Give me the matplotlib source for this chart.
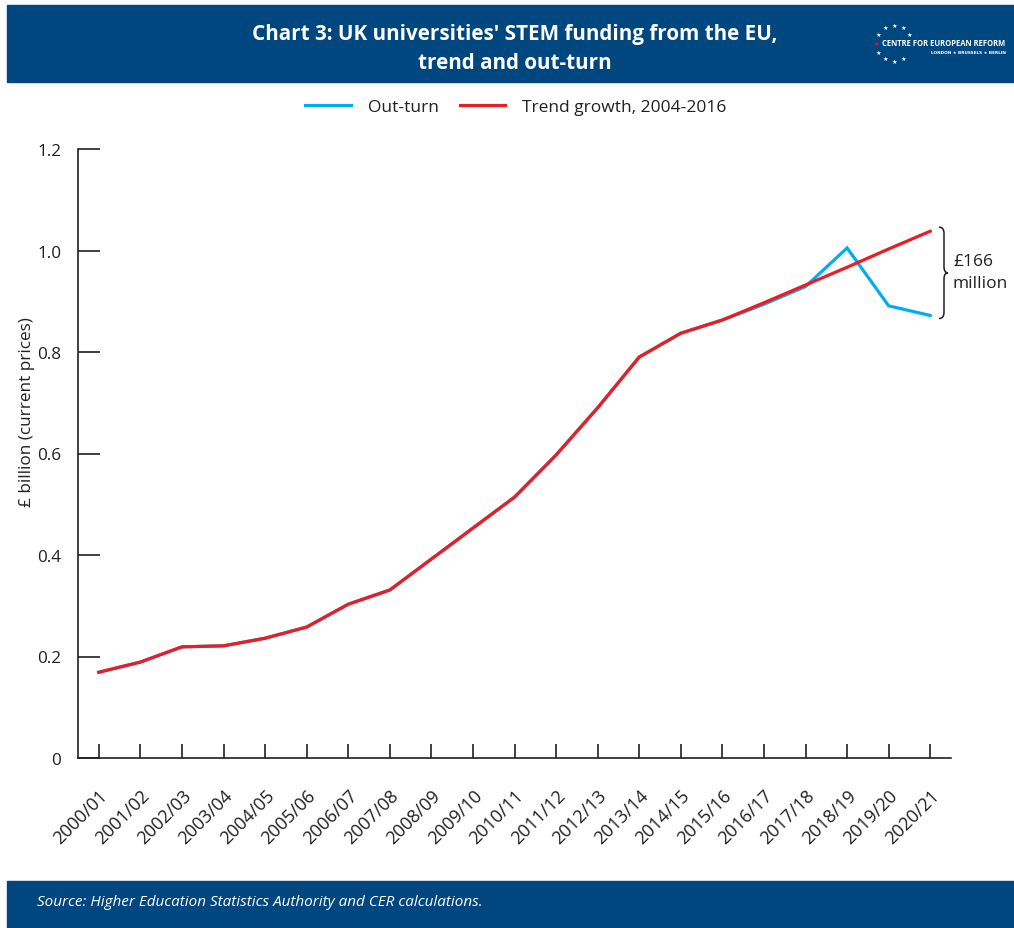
import matplotlib
matplotlib.use("Agg")
import matplotlib.pyplot as plt
import numpy as np
from matplotlib.path import Path
from matplotlib.patches import PathPatch, Rectangle
import matplotlib.transforms as mtransforms

plt.rcParams['font.family'] = ['Open Sans', 'DejaVu Sans']

years = ['2000/01', '2001/02', '2002/03', '2003/04', '2004/05', '2005/06',
         '2006/07', '2007/08', '2008/09', '2009/10', '2010/11', '2011/12',
         '2012/13', '2013/14', '2014/15', '2015/16', '2016/17', '2017/18',
         '2018/19', '2019/20', '2020/21']
outturn = [0.169, 0.189, 0.219, 0.221, 0.236, 0.258, 0.303, 0.331, 0.392,
           0.453, 0.514, 0.597, 0.690, 0.790, 0.837, 0.863, 0.894, 0.929,
           1.005, 0.891, 0.872]
trend = [0.169, 0.189, 0.219, 0.221, 0.236, 0.258, 0.303, 0.331, 0.392,
         0.453, 0.514, 0.597, 0.690, 0.790, 0.837, 0.863, 0.897, 0.932,
         0.967, 1.003, 1.038]
yticks = [0, 0.2, 0.4, 0.6, 0.8, 1.0, 1.2]
ytick_labels = ['0', '0.2', '0.4', '0.6', '0.8', '1.0', '1.2']

NAVY = '#00467F'
BLUE = '#00AEEF'
RED = '#ED1C24'
INK = '#231F20'

W, H = 1014, 929
fig = plt.figure(figsize=(W / 100, H / 100), dpi=100)

# header and footer bands
fig.add_artist(Rectangle((7 / W, 1 - 83 / H), 1 - 7 / W, 77 / H,
                         transform=fig.transFigure, color=NAVY, zorder=0))
fig.add_artist(Rectangle((7 / W, 0), 1 - 7 / W, (929 - 882) / H,
                         transform=fig.transFigure, color=NAVY, zorder=0))

fig.text(515 / W, 1 - 49 / H,
         "Chart 3: UK universities' STEM funding from the EU,\ntrend and out-turn",
         ha='center', va='center', color='white', fontsize=14.9,
         fontweight='bold', linespacing=1.45)
fig.text(37 / W, 1 - 903 / H,
         'Source: Higher Education Statistics Authority and CER calculations.',
         ha='left', va='center', color='white', fontsize=11, style='italic')

# logo: ring of stars with name
cx, cy, r = 894, 44, 18
for k in range(12):
    a = np.pi / 2 - k * 2 * np.pi / 12
    sx, sy = cx + r * np.cos(a), cy - r * np.sin(a)
    if k in (3, 4):
        continue
    col = RED if k == 9 else 'white'
    fig.text(sx / W, 1 - sy / H, '\u2605', ha='center', va='center',
             color=col, fontsize=4.5, family=['DejaVu Sans'])
fig.text(882 / W, 1 - 44 / H, 'CENTRE FOR EUROPEAN REFORM', ha='left',
         va='center', color='white', fontsize=5.5, fontweight='bold')
fig.text(1006 / W, 1 - 53 / H, 'LONDON \u2605 BRUSSELS \u2605 BERLIN',
         ha='right', va='center', color='white', fontsize=3.1,
         fontweight='bold', family=['DejaVu Sans'])

ax = fig.add_axes([78 / W, (H - 759) / H, (951 - 78) / W, (759 - 150) / H])
x = np.arange(len(years))
ax.plot(x, outturn, color=BLUE, lw=2.3, label='Out-turn', solid_joinstyle='miter')
ax.plot(x, trend, color=RED, lw=2.3, label='Trend growth, 2004-2016',
        solid_joinstyle='miter')

ax.set_xlim(-0.5, len(years) - 0.5)
ax.set_ylim(0, 1.2)
ax.set_yticks(yticks)
ax.set_yticklabels(ytick_labels)
ax.set_xticks(x)
ax.set_xticklabels(years, rotation=45, ha='right', va='top',
                   rotation_mode='anchor')
shift = mtransforms.ScaledTranslation(6 / 100, -6 / 100, fig.dpi_scale_trans)
for lab in ax.get_xticklabels():
    lab.set_transform(lab.get_transform() + shift)
for s in ('top', 'right'):
    ax.spines[s].set_visible(False)
for s in ('left', 'bottom'):
    ax.spines[s].set_color(INK)
    ax.spines[s].set_linewidth(1.2)
ax.tick_params(axis='y', direction='in', length=16, width=1.2, color=INK,
               labelsize=12.3, labelcolor=INK, pad=12)
ax.tick_params(axis='x', direction='in', length=10, width=1.2, color=INK,
               labelsize=13, labelcolor=INK, pad=20)
ax.set_ylabel('£ billion (current prices)', fontsize=12.3, color=INK)
ax.yaxis.set_label_coords(-43 / (951 - 78), 0.57)

# brace marking the gap in the final year
trans = mtransforms.blended_transform_factory(ax.transAxes, ax.transData)
ytop, ybot = trend[-1] + 0.008, outturn[-1] - 0.006
ymid = (ytop + ybot) / 2
aw = 951 - 78
x0 = (939 - 78) / aw
x1 = (944 - 78) / aw
x2 = (948 - 78) / aw
d = 0.012
verts = [(x0, ytop), (x1, ytop), (x1, ytop - d),
         (x1, ymid + d),
         (x1, ymid), (x2, ymid),
         (x1, ymid), (x1, ymid - d),
         (x1, ybot + d),
         (x1, ybot), (x0, ybot)]
codes = [Path.MOVETO, Path.CURVE3, Path.CURVE3,
         Path.LINETO,
         Path.CURVE3, Path.CURVE3,
         Path.CURVE3, Path.CURVE3,
         Path.LINETO,
         Path.CURVE3, Path.CURVE3]
ax.add_patch(PathPatch(Path(verts, codes), transform=trans, fill=False,
                       lw=1.1, edgecolor=INK, clip_on=False))
ax.text((953 - 78) / aw, (trend[-1] + outturn[-1]) / 2 + 0.003, '£166\nmillion',
        transform=trans, ha='left', va='center', fontsize=12.5, color=INK,
        linespacing=1.5, clip_on=False)

fig.legend(loc='center', bbox_to_anchor=(516 / W, 1 - 108 / H), ncol=2,
           frameon=False, fontsize=12.5, handlelength=2.6, columnspacing=1.2,
           handletextpad=1.0, labelcolor=INK)

fig.savefig('out.png', dpi=100)
